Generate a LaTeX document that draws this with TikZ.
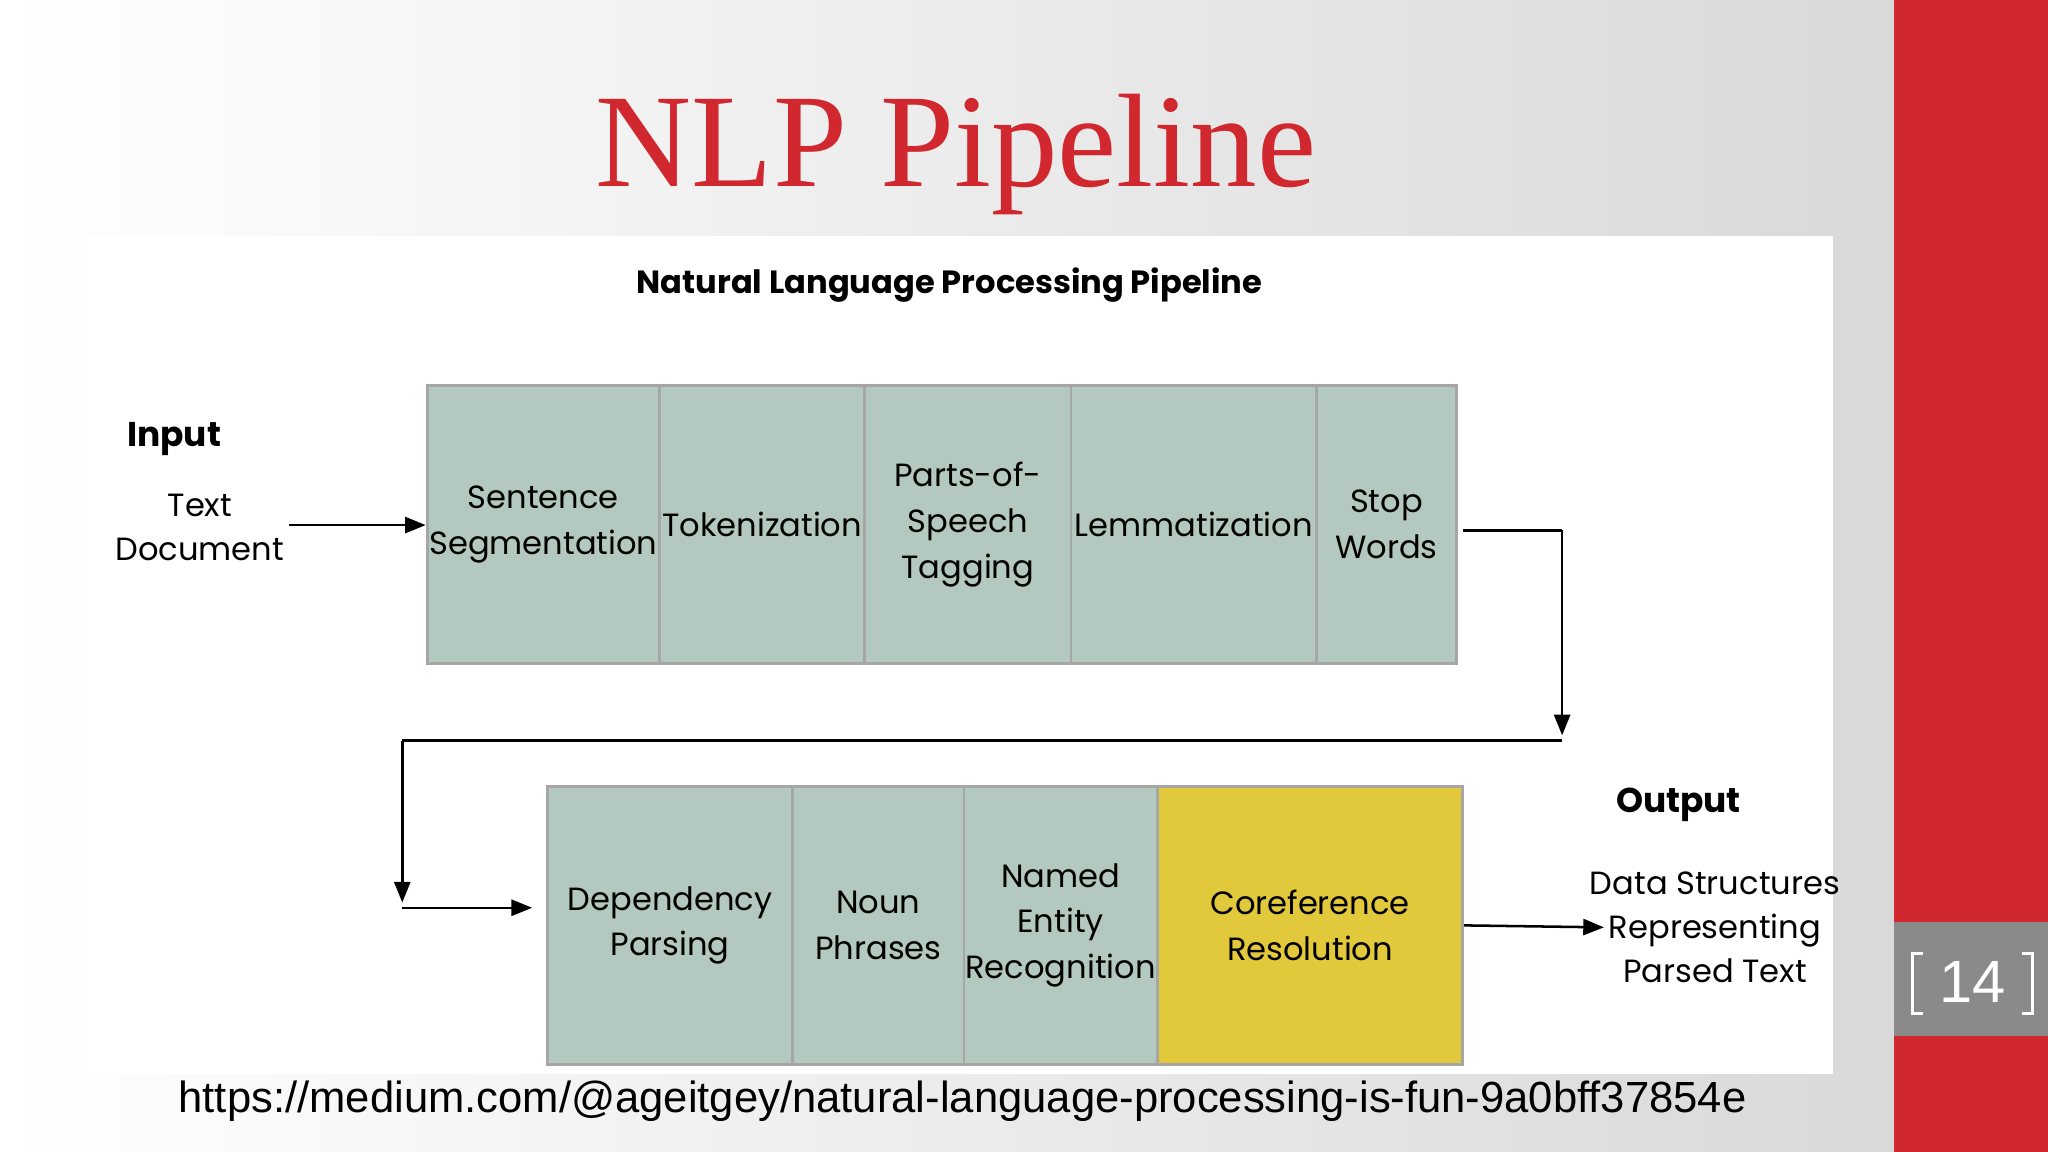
\documentclass[tikz,border=0pt]{standalone}
\usepackage{fontspec}
\setmainfont{Liberation Serif}
\newfontfamily\geo{Poppins}
\newfontfamily\arial{Liberation Sans}
\usetikzlibrary{arrows.meta}
\definecolor{slidered}{HTML}{D0282E}
\definecolor{boxgreen}{HTML}{B3C8BE}
\definecolor{boxyellow}{HTML}{E2C93C}
\tikzset{
  box/.style={draw=gray!70, line width=1.2pt, fill=boxgreen, inner sep=0pt, align=center, font=\geo\fontsize{14}{20}\selectfont},
  lbl/.style={inner sep=0pt, align=center, font=\geo\fontsize{14}{19}\selectfont},
  conn/.style={line width=1.1pt, -{Triangle[length=9pt,width=7pt]}},
  plain/.style={line width=1.1pt}
}
\begin{document}
\begin{tikzpicture}[x=0.02cm,y=-0.02cm]
\useasboundingbox (0,0) rectangle (1568,882);
\shade[left color=white, right color=gray!30] (0,0) rectangle (1450,882);
\fill[slidered] (1450,0) rectangle (1568,882);
\fill[gray!85!black!80] (1450,706) rectangle (1568,793);
\node[text=white, font=\arial\fontsize{26}{30}\selectfont] (pg) at (1510,752) {14};
\draw[white, line width=1.2pt] (1472,730) -- (1464,730) -- (1464,776) -- (1472,776);
\draw[white, line width=1.2pt] (1548,730) -- (1556,730) -- (1556,776) -- (1548,776);
\node[text=slidered, font=\fontsize{58}{60}\selectfont] (title) at (732,118) {NLP Pipeline};
\fill[white] (67,181) rectangle (1403,822);
\node[font=\geo\bfseries\fontsize{14}{16}\selectfont] (sub) at (727,218) {Natural Language Processing Pipeline};
% top row
\node[box, minimum width=3.56cm, minimum height=4.26cm] (ss) at (416,401.5) {Sentence\\Segmentation};
\node[box, minimum width=3.14cm, minimum height=4.26cm] (tok) at (583.5,401.5) {Tokenization};
\node[box, minimum width=3.16cm, minimum height=4.26cm] (pos) at (741,401.5) {Parts-of-\\Speech\\Tagging};
\node[box, minimum width=3.76cm, minimum height=4.26cm] (lem) at (914,401.5) {Lemmatization};
\node[box, minimum width=2.14cm, minimum height=4.26cm] (sw) at (1061.5,401.5) {Stop\\Words};
% bottom row
\node[box, minimum width=3.76cm, minimum height=4.26cm] (dp) at (513,708.5) {Dependency\\Parsing};
\node[box, minimum width=2.62cm, minimum height=4.26cm] (np) at (672.5,708.5) {Noun\\Phrases};
\node[box, minimum width=2.96cm, minimum height=4.26cm] (ner) at (812,708.5) {Named\\Entity\\Recognition};
\node[box, fill=boxyellow, minimum width=4.68cm, minimum height=4.26cm] (cr) at (1003,708.5) {Coreference\\Resolution};
% labels
\node[lbl, font=\geo\bfseries\fontsize{15}{18}\selectfont, anchor=west] (in) at (97,336) {Input};
\node[lbl] (td) at (153,404) {Text\\Document};
\node[lbl, font=\geo\bfseries\fontsize{15}{18}\selectfont, anchor=west] (out) at (1237,616) {Output};
\node[lbl] (ds) at (1313,710) {Data Structures\\Representing\\Parsed Text};
% connectors
\draw[conn] (td.east) ++(3,-2) coordinate (a0) -- (ss.west |- a0);
\coordinate (r1) at (1196,406);
\coordinate (r2) at (1196,563);
\coordinate (l1) at (1196,567);
\coordinate (l2) at (308,567);
\coordinate (l3) at (308,691);
\coordinate (l4) at (308,695);
\draw[plain] (sw.east |- r1) ++(4,0) -- (r1);
\draw[conn] (r1) -- (r2);
\draw[plain] (l1) -- (l2);
\draw[conn] (l2) -- (l3);
\draw[conn] (l4) -- ([xshift=-6pt]dp.west |- l4);
\draw[conn] (cr.east) -- (ds.west -| 1228,0) ;
\node[font=\arial\fontsize{19}{22}\selectfont] (url) at (737,843) {https://medium.com/@ageitgey/natural-language-processing-is-fun-9a0bff37854e};
\end{tikzpicture}
\end{document}
